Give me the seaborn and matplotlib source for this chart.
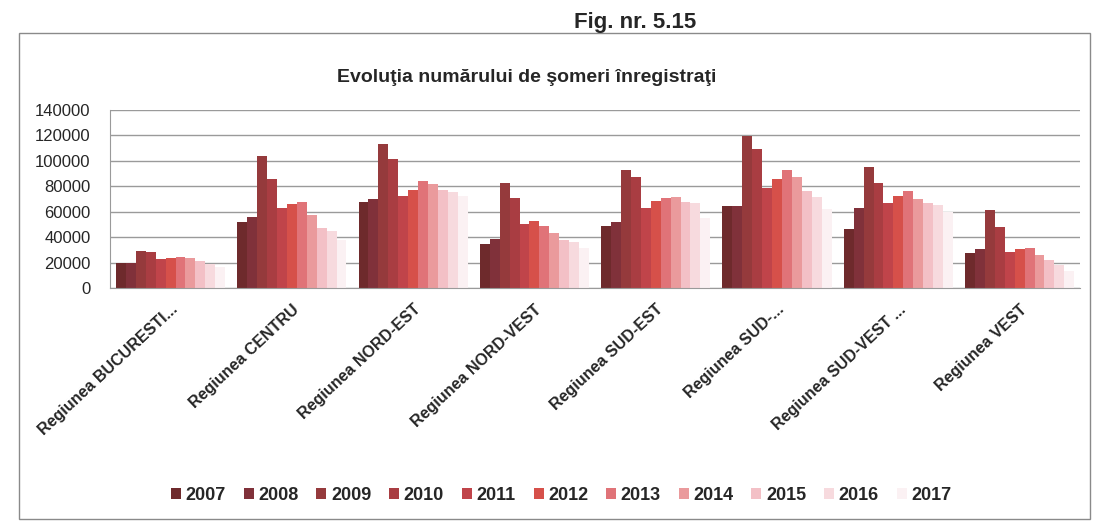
import pandas as pd
import seaborn as sns
import matplotlib.pyplot as plt
from matplotlib.patches import Rectangle

regiuni = ["Regiunea BUCURESTI...", "Regiunea CENTRU", "Regiunea NORD-EST",
           "Regiunea NORD-VEST", "Regiunea SUD-EST", "Regiunea SUD-...",
           "Regiunea SUD-VEST ...", "Regiunea VEST"]
ani = ["2007", "2008", "2009", "2010", "2011", "2012",
       "2013", "2014", "2015", "2016", "2017"]

bucuresti = [20000, 20000, 29000, 28200, 23000, 23700, 24200, 23200, 21600, 19000, 16300]
centru = [51500, 55500, 103800, 85600, 63000, 66400, 67700, 57600, 47500, 44800, 38000]
nord_est = [67500, 69600, 113500, 101500, 72300, 77000, 84200, 81600, 77000, 75500, 72300]
nord_vest = [34300, 38200, 82400, 71000, 50500, 52300, 48900, 43600, 37800, 36400, 31100]
sud_est = [49000, 51700, 92500, 87200, 63200, 68500, 70700, 71200, 67700, 66700, 55200]
sud_muntenia = [64500, 64500, 119200, 109300, 78400, 85900, 92500, 87200, 76500, 71200, 62000]
sud_vest = [46000, 63000, 94900, 82600, 66900, 72700, 76600, 70300, 66900, 65600, 60000]
vest = [27200, 30800, 61700, 47800, 28200, 30300, 31100, 25900, 21700, 18000, 13300]

culori = ["#6e2a2c", "#80313a", "#953a3c", "#a93d42", "#c0444a", "#d6504a",
          "#e07378", "#ea9a9c", "#f3c0c6", "#f7dade", "#fbf1f3"]

serii = [bucuresti, centru, nord_est, nord_vest, sud_est, sud_muntenia, sud_vest, vest]
rows = []
for reg, vals in zip(regiuni, serii):
    for an, v in zip(ani, vals):
        rows.append({"regiune": reg, "an": an, "someri": v})
df = pd.DataFrame(rows)

sns.set_style("white")
plt.rcParams["font.family"] = ["Liberation Sans", "DejaVu Sans"]

fig = plt.figure(figsize=(10.99, 5.30), dpi=100)
ax = fig.add_axes([0.100, 0.4566, 0.883, 0.336])

sns.barplot(data=df, x="regiune", y="someri", hue="an", order=regiuni,
            hue_order=ani, palette=culori, saturation=1, width=0.9, gap=0,
            edgecolor="none", linewidth=0, ax=ax, legend=True)

ax.set_ylim(0, 140000)
ax.set_yticks(range(0, 140001, 20000))
ax.set_yticklabels([str(t) for t in range(0, 140001, 20000)], fontsize=12)
ax.yaxis.grid(True, color="#9a9a9a", linewidth=1)
ax.set_axisbelow(True)
for s in ["top", "right"]:
    ax.spines[s].set_visible(False)
ax.spines["left"].set_color("#9a9a9a")
ax.spines["bottom"].set_color("#9a9a9a")
ax.tick_params(axis="y", length=0, pad=14)
ax.tick_params(axis="x", length=0, pad=10)
ax.set_xlabel("")
ax.set_ylabel("")
plt.setp(ax.get_xticklabels(), rotation=43, ha="right", va="top",
         rotation_mode="anchor", fontsize=11.5, fontweight="bold")

ax.set_title("Evoluţia numărului de şomeri înregistraţi", fontsize=14,
             fontweight="bold", pad=20, x=0.43)

fig.text(0.578, 0.958, "Fig. nr. 5.15", fontsize=16, fontweight="bold",
         ha="center", va="center")

leg = ax.legend(loc="center", bbox_to_anchor=(0.465, -1.163), ncol=11,
                frameon=False, fontsize=13, handlelength=0.55, handleheight=0.55,
                handletextpad=0.25, columnspacing=1.0)
for t in leg.get_texts():
    t.set_fontweight("bold")

fig.patches.append(Rectangle((0.017, 0.02), 0.975, 0.918, transform=fig.transFigure,
                             fill=False, edgecolor="#8a8a8a", linewidth=1))

plt.savefig("out.png", dpi=100)
